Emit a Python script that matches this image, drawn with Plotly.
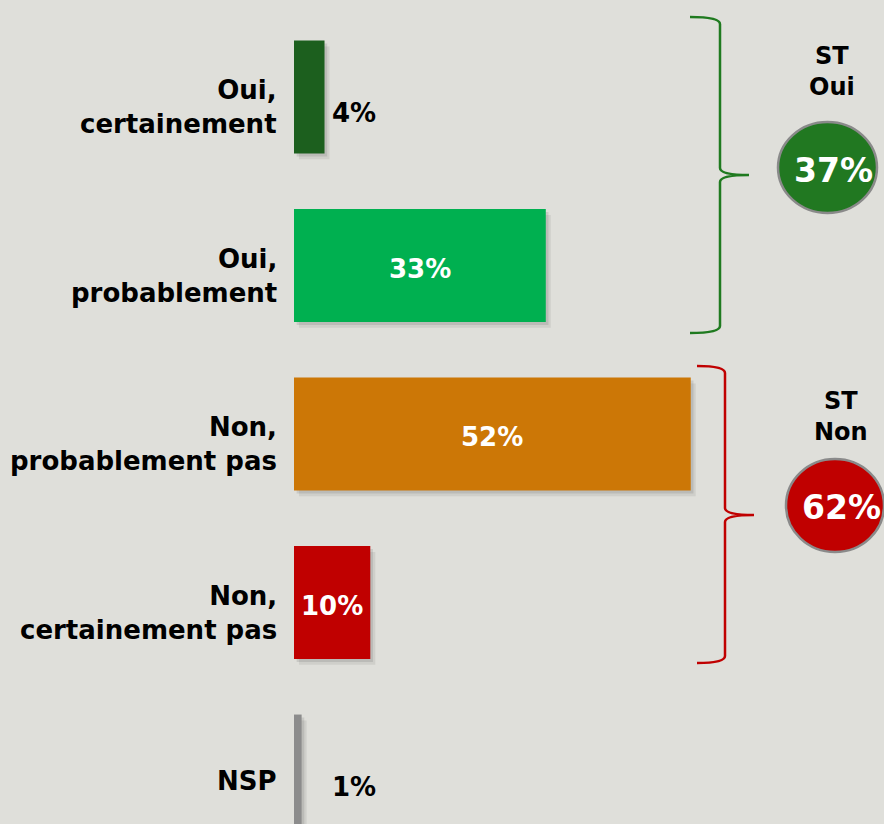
import plotly.graph_objects as go

# ---- data ----
categories = ["Oui,<br>certainement", "Oui,<br>probablement",
              "Non,<br>probablement pas", "Non,<br>certainement pas", "NSP"]
values = [4, 33, 52, 10, 1]
bar_colors = ["#1c5f1e", "#00b050", "#cc7706", "#c00000", "#8c8c8c"]
groups = [
    {"name": "ST<br>Oui", "members": [0, 1], "color": "#1f7a1f", "fill": "#217821"},
    {"name": "ST<br>Non", "members": [2, 3], "color": "#c00000", "fill": "#c00000"},
]

W, H = 884, 824
BG = "#dfdfda"
FONT = "DejaVu Sans"

# pixel helpers for decorations
def px(x):
    return x / W

def py(y):
    return 1 - y / H

idx = list(range(len(categories)))

fig = go.Figure()

# soft shadows behind bars (two translucent layers)
for dx, dy, a in [(0.65, 0.035, 0.10), (0.35, 0.018, 0.14)]:
    fig.add_trace(go.Bar(
        y=idx, x=values, base=dx, orientation="h", width=0.67, offset=-0.335 + dy,
        marker=dict(color=f"rgba(70,70,70,{a})", line=dict(width=0)),
        hoverinfo="skip", showlegend=False))

fig.add_trace(go.Bar(
    y=idx, x=values, orientation="h", width=0.67,
    marker=dict(color=bar_colors, line=dict(width=0)),
    showlegend=False))

annotations = []
# category labels
for i, c in enumerate(categories):
    annotations.append(dict(
        x=px(279), xref="paper", y=i, yref="y", text=c, showarrow=False,
        xanchor="right", yanchor="middle", align="right", yshift=-10,
        font=dict(family=FONT, size=26, color="black", weight="bold")))

# value labels
for i, v in enumerate(values):
    if v >= 8:
        annotations.append(dict(
            x=v / 2, xref="x", y=i, yref="y", text=f"{v}%", showarrow=False,
            xanchor="center", yanchor="middle", yshift=-3,
            font=dict(family=FONT, size=26, color="white", weight="bold")))
    else:
        annotations.append(dict(
            x=px(330), xref="paper", y=i, yref="y", text=f"{v}%", showarrow=False,
            xanchor="left", yanchor="middle", yshift=-16,
            font=dict(family=FONT, size=26, color="black", weight="bold")))

shapes = []

def brace(x_end, x_line, x_tip, y_top, y_tip, y_bot, color):
    r = 7
    pts = [
        f"M {px(x_end)},{py(y_top)}",
        f"Q {px(x_line)},{py(y_top)} {px(x_line)},{py(y_top + r)}",
        f"L {px(x_line)},{py(y_tip - r)}",
        f"Q {px(x_line)},{py(y_tip)} {px(x_tip)},{py(y_tip)}",
        f"Q {px(x_line)},{py(y_tip)} {px(x_line)},{py(y_tip + r)}",
        f"L {px(x_line)},{py(y_bot - r)}",
        f"Q {px(x_line)},{py(y_bot)} {px(x_end)},{py(y_bot)}",
    ]
    return dict(type="path", xref="paper", yref="paper", path=" ".join(pts),
                line=dict(color=color, width=2.5))

brace_geo = [
    dict(x_end=690, x_line=720, x_tip=749, y_top=17, y_tip=175, y_bot=333),
    dict(x_end=697, x_line=725, x_tip=754, y_top=366, y_tip=515, y_bot=663),
]
circle_geo = [
    dict(x0=778, x1=877, y0=122, y1=213, tx=833, ty=170, hx=832, hy=72),
    dict(x0=786, x1=884, y0=459, y1=552, tx=841, ty=507, hx=841, hy=416),
]

for g, b, c in zip(groups, brace_geo, circle_geo):
    shapes.append(brace(color=g["color"], **b))
    shapes.append(dict(type="circle", xref="paper", yref="paper",
                       x0=px(c["x0"]), x1=px(c["x1"]), y0=py(c["y1"]), y1=py(c["y0"]),
                       fillcolor=g["fill"], line=dict(color="#8a8a8a", width=2.5)))
    total = sum(values[m] for m in g["members"])
    annotations.append(dict(
        x=px(c["tx"]), y=py(c["ty"]), xref="paper", yref="paper", text=f"{total}%",
        showarrow=False, xanchor="center", yanchor="middle",
        font=dict(family=FONT, size=33, color="white", weight="bold")))
    annotations.append(dict(
        x=px(c["hx"]), y=py(c["hy"]), xref="paper", yref="paper", text=g["name"],
        showarrow=False, xanchor="center", yanchor="middle", align="center",
        font=dict(family=FONT, size=24, color="black", weight="bold")))

PXPER = 7.63
fig.update_layout(
    width=W, height=H, margin=dict(l=0, r=0, t=0, b=0),
    paper_bgcolor=BG, plot_bgcolor=BG, barmode="overlay",
    xaxis=dict(domain=[294 / W, 1], range=[0, (W - 294) / PXPER], visible=False,
               fixedrange=True),
    yaxis=dict(domain=[0, 1], range=[(H - 97) / 168.5, -97 / 168.5], visible=False,
               fixedrange=True),
    annotations=annotations, shapes=shapes, showlegend=False,
)

fig.write_html("out.html")
